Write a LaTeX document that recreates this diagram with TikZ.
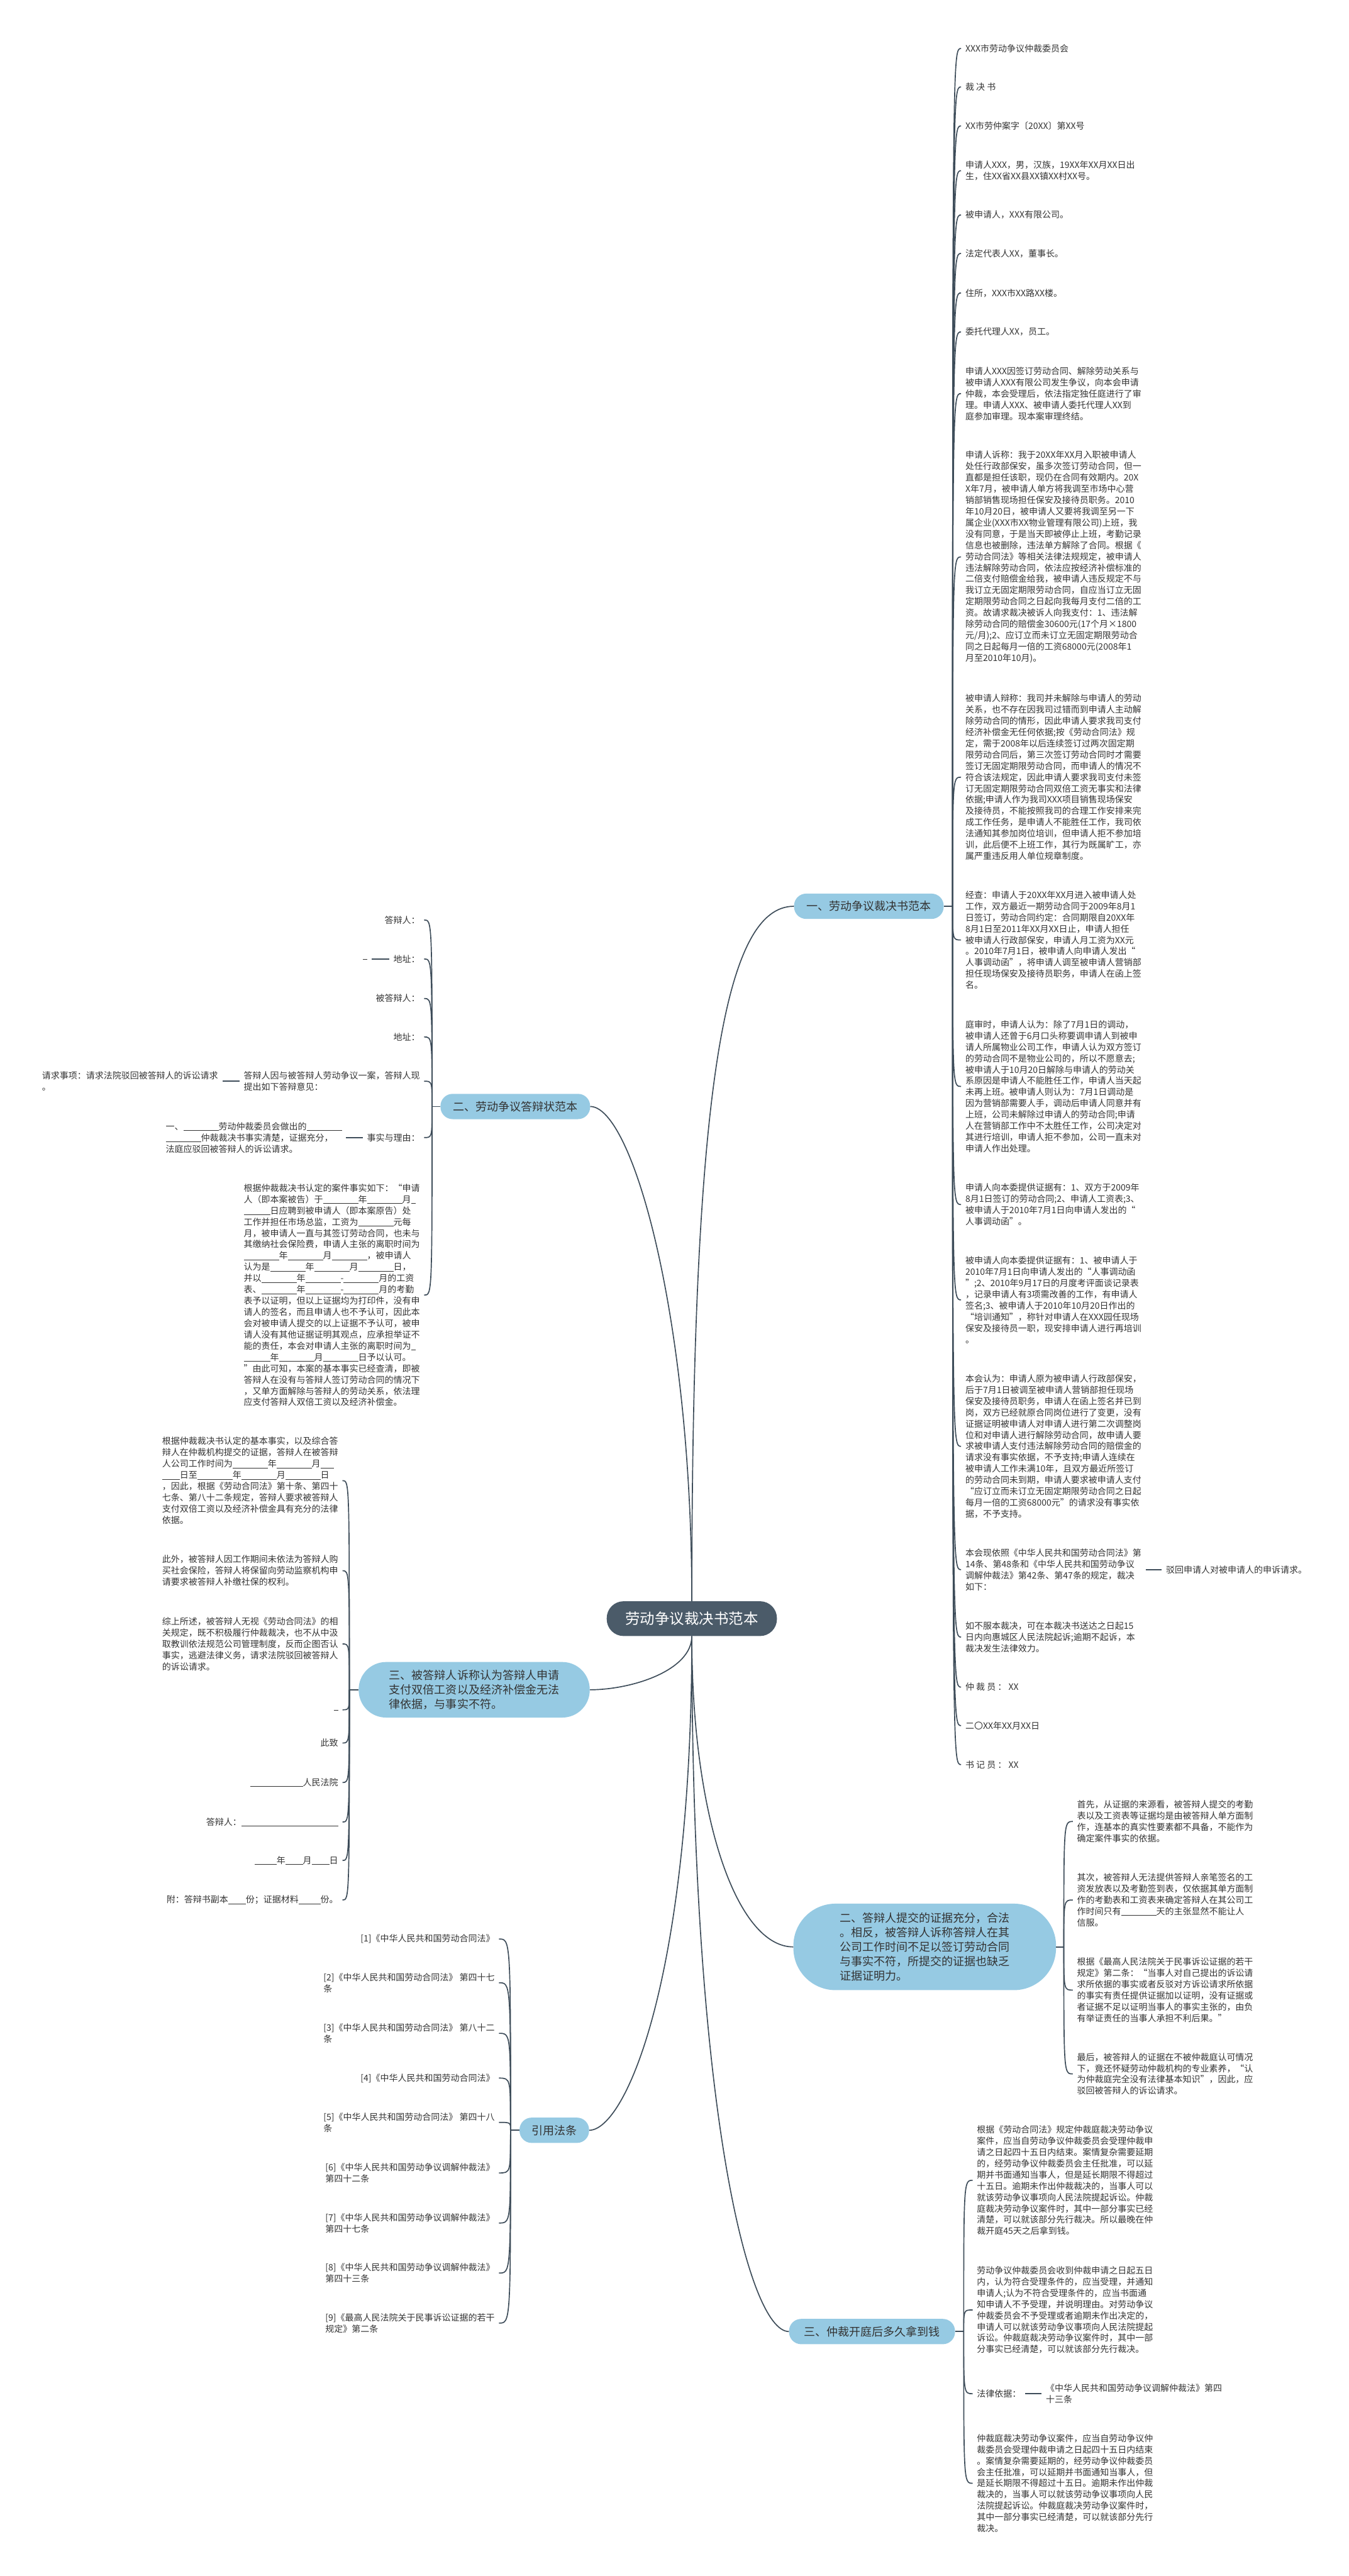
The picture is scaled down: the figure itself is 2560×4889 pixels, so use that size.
\documentclass[tikz,border=0pt]{standalone}
\usepackage{fontspec}
\newfontfamily\cjk{Noto Sans CJK SC}
\definecolor{topicblue}{HTML}{96CAE3}
\definecolor{rootslate}{HTML}{4B5B69}
\definecolor{linkslate}{HTML}{3D4C59}
\definecolor{txtgray}{HTML}{333333}
\newcommand\blank[1]{\rule[-0.13em]{\dimexpr0.5em*#1\relax}{0.06em}}
\begin{document}
\begin{tikzpicture}[x=1pt,y=-1pt,
root/.style={fill=rootslate, text=white, rounded corners=32pt, minimum width=323pt, minimum height=66pt, font=\cjk\fontsize{28}{33}\selectfont},
topic/.style={fill=topicblue, text=txtgray, rounded corners=23pt, minimum height=48pt, align=left, font=\cjk\fontsize{21.5}{27.5}\selectfont},
leaf/.style={text=txtgray, align=left, inner xsep=8pt, inner ysep=2pt, font=\cjk\fontsize{16.7}{21.4}\selectfont},
link/.style={draw=linkslate, line width=2pt},
strand/.style={to path={.. controls (\tikztostart |- \tikztotarget) .. (\tikztotarget)}}
]
\useasboundingbox (0,0) rectangle (2560,4889);

% root and main topics
\node[root] (c) at (1313,3072) {劳动争议裁决书范本};
\node[topic, minimum width=284pt] (b1) at (1649,1720) {一、劳动争议裁决书范本};
\node[topic, minimum width=284pt] (b2) at (978,2100) {二、劳动争议答辩状范本};
\node[topic, rounded corners=52pt, inner xsep=58pt, inner ysep=15pt] (b3) at (900,3207) {三、被答辩人诉称认为答辩人申请\\
支付双倍工资以及经济补偿金无法\\
律依据，与事实不符。};
\node[topic, rounded corners=80pt, inner xsep=88pt, inner ysep=17pt] (b4) at (1755,3695) {二、答辩人提交的证据充分，合法\\
。相反，被答辩人诉称答辩人在其\\
公司工作时间不足以签订劳动合同\\
与事实不符，所提交的证据也缺乏\\
证据证明力。};
\node[topic, minimum width=132pt] (b5) at (1052,4043) {引用法条};
\node[topic, minimum width=315pt] (b6) at (1655,4425) {三、仲裁开庭后多久拿到钱};

\draw[link] (c.north) .. controls +(0,-1000) and +(-127,0) .. (b1.west);
\draw[link] (c.north) .. controls +(0,-540) and +(80,0) .. (b2.east);
\draw[link] (c.south) .. controls +(0,65) and +(80,0) .. (b3.east);
\draw[link] (c.south) .. controls +(0,345) and +(-107,0) .. (b4.west);
\draw[link] (c.south) .. controls +(0,645) and +(70,0) .. (b5.east);
\draw[link] (c.south) .. controls +(0,895) and +(-77,0) .. (b6.west);

% branch one
\coordinate (o1) at (1808,1720);
\node[leaf, anchor=west] (r1) at (1824,92) {XXX市劳动争议仲裁委员会};
\node[leaf, anchor=west] (r2) at (1824,165) {裁 决 书};
\node[leaf, anchor=west] (r3) at (1824,239) {XX市劳仲案字〔20XX〕第XX号};
\node[leaf, anchor=west] (r4) at (1824,324) {申请人XXX，男，汉族，19XX年XX月XX日出\\
生，住XX省XX县XX镇XX村XX号。};
\node[leaf, anchor=west] (r5) at (1824,408) {被申请人，XXX有限公司。};
\node[leaf, anchor=west] (r6) at (1824,481) {法定代表人XX，董事长。};
\node[leaf, anchor=west] (r7) at (1824,556) {住所，XXX市XX路XX楼。};
\node[leaf, anchor=west] (r8) at (1824,630) {委托代理人XX，员工。};
\node[leaf, anchor=west] (r9) at (1824,747) {申请人XXX因签订劳动合同、解除劳动关系与\\
被申请人XXX有限公司发生争议，向本会申请\\
仲裁，本会受理后，依法指定独任庭进行了审\\
理。申请人XXX、被申请人委托代理人XX到\\
庭参加审理。现本案审理终结。};
\node[leaf, anchor=west] (r10) at (1824,1057) {申请人诉称：我于20XX年XX月入职被申请人\\
处任行政部保安，虽多次签订劳动合同，但一\\
直都是担任该职，现仍在合同有效期内。20X\\
X年7月，被申请人单方将我调至市场中心营\\
销部销售现场担任保安及接待员职务。2010\\
年10月20日，被申请人又要将我调至另一下\\
属企业(XXX市XX物业管理有限公司)上班，我\\
没有同意，于是当天即被停止上班，考勤记录\\
信息也被删除，违法单方解除了合同。根据《\\
劳动合同法》等相关法律法规规定，被申请人\\
违法解除劳动合同，依法应按经济补偿标准的\\
二倍支付赔偿金给我，被申请人违反规定不与\\
我订立无固定期限劳动合同，自应当订立无固\\
定期限劳动合同之日起向我每月支付二倍的工\\
资。故请求裁决被诉人向我支付：1、违法解\\
除劳动合同的赔偿金30600元(17个月×1800\\
元/月);2、应订立而未订立无固定期限劳动合\\
同之日起每月一倍的工资68000元(2008年1\\
月至2010年10月)。};
\node[leaf, anchor=west] (r11) at (1824,1475) {被申请人辩称：我司并未解除与申请人的劳动\\
关系，也不存在因我司过错而到申请人主动解\\
除劳动合同的情形，因此申请人要求我司支付\\
经济补偿金无任何依据;按《劳动合同法》规\\
定，需于2008年以后连续签订过两次固定期\\
限劳动合同后，第三次签订劳动合同时才需要\\
签订无固定期限劳动合同，而申请人的情况不\\
符合该法规定，因此申请人要求我司支付未签\\
订无固定期限劳动合同双倍工资无事实和法律\\
依据;申请人作为我司XXX项目销售现场保安\\
及接待员，不能按照我司的合理工作安排来完\\
成工作任务，是申请人不能胜任工作，我司依\\
法通知其参加岗位培训，但申请人拒不参加培\\
训，此后便不上班工作，其行为既属旷工，亦\\
属严重违反用人单位规章制度。};
\node[leaf, anchor=west] (r12) at (1824,1784) {经查：申请人于20XX年XX月进入被申请人处\\
工作，双方最近一期劳动合同于2009年8月1\\
日签订，劳动合同约定：合同期限自20XX年\\
8月1日至2011年XX月XX日止，申请人担任\\
被申请人行政部保安，申请人月工资为XX元\\
。2010年7月1日，被申请人向申请人发出“\\
人事调动函”，将申请人调至被申请人营销部\\
担任现场保安及接待员职务，申请人在函上签\\
名。};
\node[leaf, anchor=west] (r13) at (1824,2062) {庭审时，申请人认为：除了7月1日的调动，\\
被申请人还曾于6月口头称要调申请人到被申\\
请人所属物业公司工作，申请人认为双方签订\\
的劳动合同不是物业公司的，所以不愿意去;\\
被申请人于10月20日解除与申请人的劳动关\\
系原因是申请人不能胜任工作，申请人当天起\\
未再上班。被申请人则认为：7月1日调动是\\
因为营销部需要人手，调动后申请人同意并有\\
上班，公司未解除过申请人的劳动合同;申请\\
人在营销部工作中不太胜任工作，公司决定对\\
其进行培训，申请人拒不参加，公司一直未对\\
申请人作出处理。};
\node[leaf, anchor=west] (r14) at (1824,2286) {申请人向本委提供证据有：1、双方于2009年\\
8月1日签订的劳动合同;2、申请人工资表;3、\\
被申请人于2010年7月1日向申请人发出的“\\
人事调动函”。};
\node[leaf, anchor=west] (r15) at (1824,2467) {被申请人向本委提供证据有：1、被申请人于\\
2010年7月1日向申请人发出的“人事调动函\\
”;2、2010年9月17日的月度考评面谈记录表\\
，记录申请人有3项需改善的工作，有申请人\\
签名;3、被申请人于2010年10月20日作出的\\
“培训通知”，称针对申请人在XXX园任现场\\
保安及接待员一职，现安排申请人进行再培训\\
。};
\node[leaf, anchor=west] (r16) at (1824,2745) {本会认为：申请人原为被申请人行政部保安，\\
后于7月1日被调至被申请人营销部担任现场\\
保安及接待员职务，申请人在函上签名并已到\\
岗，双方已经就原合同岗位进行了变更，没有\\
证据证明被申请人对申请人进行第二次调整岗\\
位和对申请人进行解除劳动合同，故申请人要\\
求被申请人支付违法解除劳动合同的赔偿金的\\
请求没有事实依据，不予支持;申请人连续在\\
被申请人工作未满10年，且双方最近所签订\\
的劳动合同未到期，申请人要求被申请人支付\\
“应订立而未订立无固定期限劳动合同之日起\\
每月一倍的工资68000元”的请求没有事实依\\
据，不予支持。};
\node[leaf, anchor=west] (r17) at (1824,2979) {本会现依照《中华人民共和国劳动合同法》第\\
14条、第48条和《中华人民共和国劳动争议\\
调解仲裁法》第42条、第47条的规定，裁决\\
如下：};
\node[leaf, anchor=west] (r17a) at (2205,2979) {驳回申请人对被申请人的申诉请求。};
\node[leaf, anchor=west] (r18) at (1824,3107) {如不服本裁决，可在本裁决书送达之日起15\\
日内向惠城区人民法院起诉;逾期不起诉，本\\
裁决发生法律效力。};
\node[leaf, anchor=west] (r19) at (1824,3202) {仲 裁 员 ： XX};
\node[leaf, anchor=west] (r20) at (1824,3275) {二〇XX年XX月XX日};
\node[leaf, anchor=west] (r21) at (1824,3349) {书 记 员 ： XX};

\draw[link] (b1.east) -- (o1);
\draw[link] (o1) edge[strand] (r1.west) edge[strand] (r2.west) edge[strand] (r3.west)
  edge[strand] (r4.west) edge[strand] (r5.west) edge[strand] (r6.west) edge[strand] (r7.west)
  edge[strand] (r8.west) edge[strand] (r9.west) edge[strand] (r10.west) edge[strand] (r11.west)
  edge[strand] (r12.west) edge[strand] (r13.west) edge[strand] (r14.west) edge[strand] (r15.west)
  edge[strand] (r16.west) edge[strand] (r17.west) edge[strand] (r18.west) edge[strand] (r19.west)
  edge[strand] (r20.west) edge[strand] (r21.west);
\draw[link] (r17.east) -- (r17a.west);

% branch two, left
\coordinate (o2) at (820,2100);
\node[leaf, anchor=east] (l1) at (805,1746) {答辩人：};
\node[leaf, anchor=east] (l2) at (805,1820) {地址：};
\node[leaf, anchor=east] (l2a) at (705,1820) {\blank{1}};
\node[leaf, anchor=east] (l3) at (805,1895) {被答辩人：};
\node[leaf, anchor=east] (l4) at (805,1968) {地址：};
\node[leaf, anchor=east] (l5) at (805,2052) {答辩人因与被答辩人劳动争议一案，答辩人现\\
提出如下答辩意见：};
\node[leaf, anchor=east] (l5a) at (422,2052) {请求事项：请求法院驳回被答辩人的诉讼请求\\
。};
\node[leaf, anchor=east] (l6) at (805,2159) {事实与理由：};
\node[leaf, anchor=east] (l6a) at (657,2159) {一、\blank{8}劳动仲裁委员会做出的\blank{8}\\
\blank{8}仲裁裁决书事实清楚，证据充分，\\
法庭应驳回被答辩人的诉讼请求。};
\node[leaf, anchor=east] (l7) at (805,2458) {根据仲裁裁决书认定的案件事实如下：“申请\\
人（即本案被告）于\blank{8}年\blank{8}月\blank{1}\\
\blank{6}日应聘到被申请人（即本案原告）处\\
工作并担任市场总监，工资为\blank{8}元每\\
月，被申请人一直与其签订劳动合同，也未与\\
其缴纳社会保险费，申请人主张的离职时间为\\
\blank{8}年\blank{8}月\blank{8}，被申请人\\
认为是\blank{8}年\blank{8}月\blank{8}日，\\
并以\blank{8}年\blank{8}-\blank{8}月的工资\\
表、\blank{8}年\blank{8}-\blank{8}月的考勤\\
表予以证明，但以上证据均为打印件，没有申\\
请人的签名，而且申请人也不予认可，因此本\\
会对被申请人提交的以上证据不予认可，被申\\
请人没有其他证据证明其观点，应承担举证不\\
能的责任，本会对申请人主张的离职时间为\blank{1}\\
\blank{6}年\blank{8}月\blank{8}日予以认可。\\
”由此可知，本案的基本事实已经查清，即被\\
答辩人在没有与答辩人签订劳动合同的情况下\\
，又单方面解除与答辩人的劳动关系，依法理\\
应支付答辩人双倍工资以及经济补偿金。};

\draw[link] (b2.west) -- (o2);
\draw[link] (o2) edge[strand] (l1.east) edge[strand] (l2.east) edge[strand] (l3.east)
  edge[strand] (l4.east) edge[strand] (l5.east) edge[strand] (l6.east) edge[strand] (l7.east);
\draw[link] (l2.west) -- (l2a.east);
\draw[link] (l5.west) -- (l5a.east);
\draw[link] (l6.west) -- (l6a.east);

% branch three, left
\coordinate (o3) at (663,3207);
\node[leaf, anchor=east] (m1) at (650,2810) {根据仲裁裁决书认定的基本事实，以及综合答\\
辩人在仲裁机构提交的证据，答辩人在被答辩\\
人公司工作时间为\blank{8}年\blank{8}月\blank{3}\\
\blank{4}日至\blank{8}年\blank{8}月\blank{8}日\\
，因此，根据《劳动合同法》第十条、第四十\\
七条、第八十二条规定，答辩人要求被答辩人\\
支付双倍工资以及经济补偿金具有充分的法律\\
依据。};
\node[leaf, anchor=east] (m2) at (650,2981) {此外，被答辩人因工作期间未依法为答辩人购\\
买社会保险，答辩人将保留向劳动监察机构申\\
请要求被答辩人补缴社保的权利。};
\node[leaf, anchor=east] (m3) at (650,3120) {综上所述，被答辩人无视《劳动合同法》的相\\
关规定，既不积极履行仲裁裁决，也不从中汲\\
取教训依法规范公司管理制度，反而企图否认\\
事实，逃避法律义务，请求法院驳回被答辩人\\
的诉讼请求。};
\node[leaf, anchor=east] (m4) at (650,3245) {\blank{1}};
\node[leaf, anchor=east] (m5) at (650,3308) {此致};
\node[leaf, anchor=east] (m6) at (650,3383) {\blank{12}人民法院};
\node[leaf, anchor=east] (m7) at (650,3458) {答辩人：\blank{22}};
\node[leaf, anchor=east] (m8) at (650,3531) {\blank{5}年\blank{4}月\blank{4}日};
\node[leaf, anchor=east] (m9) at (650,3606) {附：答辩书副本\blank{4}份；证据材料\blank{5}份。};

\draw[link] (b3.west) -- (o3);
\draw[link] (o3) edge[strand] (m1.east) edge[strand] (m2.east) edge[strand] (m3.east)
  edge[strand] (m4.east) edge[strand] (m5.east) edge[strand] (m6.east) edge[strand] (m7.east)
  edge[strand] (m8.east) edge[strand] (m9.east);

% branch two, right
\coordinate (o4) at (2019,3695);
\node[leaf, anchor=west] (n1) at (2036,3457) {首先，从证据的来源看，被答辩人提交的考勤\\
表以及工资表等证据均是由被答辩人单方面制\\
作，连基本的真实性要素都不具备，不能作为\\
确定案件事实的依据。};
\node[leaf, anchor=west] (n2) at (2036,3606) {其次，被答辩人无法提供答辩人亲笔签名的工\\
资发放表以及考勤签到表，仅依据其单方面制\\
作的考勤表和工资表来确定答辩人在其公司工\\
作时间只有\blank{8}天的主张显然不能让人\\
信服。};
\node[leaf, anchor=west] (n3) at (2036,3777) {根据《最高人民法院关于民事诉讼证据的若干\\
规定》第二条：“当事人对自己提出的诉讼请\\
求所依据的事实或者反驳对方诉讼请求所依据\\
的事实有责任提供证据加以证明，没有证据或\\
者证据不足以证明当事人的事实主张的，由负\\
有举证责任的当事人承担不利后果。”};
\node[leaf, anchor=west] (n4) at (2036,3936) {最后，被答辩人的证据在不被仲裁庭认可情况\\
下，竟还怀疑劳动仲裁机构的专业素养，“认\\
为仲裁庭完全没有法律基本知识”，因此，应\\
驳回被答辩人的诉讼请求。};

\draw[link] (b4.east) -- (o4);
\draw[link] (o4) edge[strand] (n1.west) edge[strand] (n2.west) edge[strand] (n3.west)
  edge[strand] (n4.west);

% cited laws
\coordinate (o5) at (969,4043);
\node[leaf, anchor=east] (k1) at (947,3680) {[1]《中华人民共和国劳动合同法》};
\node[leaf, anchor=east] (k2) at (947,3763) {[2]《中华人民共和国劳动合同法》 第四十七\\
条};
\node[leaf, anchor=east] (k3) at (947,3859) {[3]《中华人民共和国劳动合同法》 第八十二\\
条};
\node[leaf, anchor=east] (k4) at (947,3944) {[4]《中华人民共和国劳动合同法》};
\node[leaf, anchor=east] (k5) at (947,4028) {[5]《中华人民共和国劳动合同法》 第四十八\\
条};
\node[leaf, anchor=east] (k6) at (947,4124) {[6]《中华人民共和国劳动争议调解仲裁法》\\
第四十二条};
\node[leaf, anchor=east] (k7) at (947,4219) {[7]《中华人民共和国劳动争议调解仲裁法》\\
第四十七条};
\node[leaf, anchor=east] (k8) at (947,4314) {[8]《中华人民共和国劳动争议调解仲裁法》\\
第四十三条};
\node[leaf, anchor=east] (k9) at (947,4409) {[9]《最高人民法院关于民事诉讼证据的若干\\
规定》第二条};

\draw[link] (b5.west) -- (o5);
\draw[link] (o5) edge[strand] (k1.east) edge[strand] (k2.east) edge[strand] (k3.east)
  edge[strand] (k4.east) edge[strand] (k5.east) edge[strand] (k6.east) edge[strand] (k7.east)
  edge[strand] (k8.east) edge[strand] (k9.east);

% branch three, right
\coordinate (o6) at (1829,4425);
\node[leaf, anchor=west] (p1) at (1846,4138) {根据《劳动合同法》规定仲裁庭裁决劳动争议\\
案件，应当自劳动争议仲裁委员会受理仲裁申\\
请之日起四十五日内结束。案情复杂需要延期\\
的，经劳动争议仲裁委员会主任批准，可以延\\
期并书面通知当事人，但是延长期限不得超过\\
十五日。逾期未作出仲裁裁决的，当事人可以\\
就该劳动争议事项向人民法院提起诉讼。仲裁\\
庭裁决劳动争议案件时，其中一部分事实已经\\
清楚，可以就该部分先行裁决。所以最晚在仲\\
裁开庭45天之后拿到钱。};
\node[leaf, anchor=west] (p2) at (1846,4384) {劳动争议仲裁委员会收到仲裁申请之日起五日\\
内，认为符合受理条件的，应当受理，并通知\\
申请人;认为不符合受理条件的，应当书面通\\
知申请人不予受理，并说明理由。对劳动争议\\
仲裁委员会不予受理或者逾期未作出决定的，\\
申请人可以就该劳动争议事项向人民法院提起\\
诉讼。仲裁庭裁决劳动争议案件时，其中一部\\
分事实已经清楚，可以就该部分先行裁决。};
\node[leaf, anchor=west] (p3) at (1846,4543) {法律依据：};
\node[leaf, anchor=west] (p3a) at (1977,4543) {《中华人民共和国劳动争议调解仲裁法》第四\\
十三条};
\node[leaf, anchor=west] (p4) at (1846,4713) {仲裁庭裁决劳动争议案件，应当自劳动争议仲\\
裁委员会受理仲裁申请之日起四十五日内结束\\
。案情复杂需要延期的，经劳动争议仲裁委员\\
会主任批准，可以延期并书面通知当事人，但\\
是延长期限不得超过十五日。逾期未作出仲裁\\
裁决的，当事人可以就该劳动争议事项向人民\\
法院提起诉讼。仲裁庭裁决劳动争议案件时，\\
其中一部分事实已经清楚，可以就该部分先行\\
裁决。};

\draw[link] (b6.east) -- (o6);
\draw[link] (o6) edge[strand] (p1.west) edge[strand] (p2.west) edge[strand] (p3.west)
  edge[strand] (p4.west);
\draw[link] (p3.east) -- (p3a.west);
\end{tikzpicture}
\end{document}
